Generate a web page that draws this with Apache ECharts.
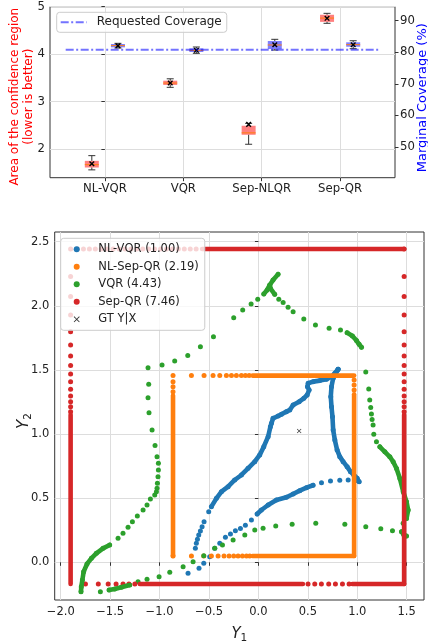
<!DOCTYPE html>
<html><head><meta charset="utf-8">
<script src="https://cdn.jsdelivr.net/npm/echarts@6/dist/echarts.min.js"></script>
<style>html,body{margin:0;padding:0;background:#fff}#c{width:428px;height:642px}</style>
</head><body><div id="c"></div>
<script>
// ---------- top panel data ----------
const methods = ['NL-VQR', 'VQR', 'Sep-NLQR', 'Sep-QR'];
const areaMin  = [1.56, 3.30, 2.10, 4.65];
const areaQ1   = [1.61, 3.35, 2.30, 4.68];
const areaMed  = [1.67, 3.39, 2.34, 4.76];
const areaQ3   = [1.75, 3.44, 2.49, 4.83];
const areaMax  = [1.86, 3.48, 2.54, 4.86];
const areaMean = [1.69, 3.39, 2.52, 4.755];
const covMin  = [81.34, 79.66, 80.70, 81.12];
const covQ1   = [81.56, 80.07, 81.02, 81.75];
const covMed  = [82.10, 80.60, 82.30, 82.40];
const covQ3   = [82.61, 81.24, 83.56, 83.15];
const covMax  = [82.83, 81.66, 84.10, 83.65];
const covMean = [82.07, 80.61, 82.39, 82.39];
const requestedCoverage = 80.8;
const areaTicks = [2, 3, 4, 5];
const covTicks = [40, 50, 60, 70, 80, 90];

// ---------- bottom panel data ----------
const xTicks = [-2.0, -1.5, -1.0, -0.5, 0.0, 0.5, 1.0, 1.5];
const yTicks = [0.0, 0.5, 1.0, 1.5, 2.0, 2.5];
const legendNames = ['NL-VQR (1.00)', 'NL-Sep-QR (2.19)', 'VQR (4.43)', 'Sep-QR (7.46)', 'GT Y|X'];

// NL-VQR contour (blue)
const nlvqrLeft = [[0.806,1.505],[0.773,1.474],[0.739,1.448],[0.688,1.427],[0.621,1.417],[0.553,1.409],[0.503,1.396],[0.496,1.370],[0.513,1.344],[0.493,1.305],[0.459,1.279],[0.412,1.253],[0.351,1.227],[0.317,1.188],[0.283,1.175],[0.233,1.154],[0.199,1.141],[0.148,1.123],[0.132,1.084],[0.121,1.058],[0.098,0.980],[0.054,0.902],[0.013,0.837],[-0.037,0.785],[-0.105,0.733],[-0.172,0.681],[-0.240,0.642],[-0.307,0.590],[-0.374,0.551],[-0.425,0.499],[-0.476,0.434],[-0.503,0.395],[-0.550,0.317],[-0.570,0.278],[-0.587,0.244],[-0.604,0.213],[-0.617,0.179],[-0.628,0.148],[-0.638,0.109],[-0.712,-0.086]];
const nlvqrRight = [[0.806,1.505],[0.756,1.435],[0.739,1.370],[0.732,1.292],[0.739,1.214],[0.749,1.136],[0.756,1.032],[0.773,0.954],[0.796,0.876],[0.823,0.824],[0.857,0.785],[0.897,0.746],[0.931,0.707],[0.965,0.681],[0.999,0.655],[1.019,0.629]];
const nlvqrLower = [[0.992,0.637],[0.908,0.642],[0.823,0.640],[0.729,0.634],[0.638,0.621],[0.553,0.601],[0.486,0.582],[0.418,0.559],[0.351,0.533],[0.283,0.507],[0.182,0.486],[0.098,0.447],[0.030,0.408],[-0.013,0.377],[-0.071,0.330],[-0.132,0.289],[-0.182,0.263],[-0.233,0.247],[-0.283,0.221],[-0.334,0.195],[-0.391,0.148],[-0.442,0.109],[-0.493,0.044],[-0.553,-0.008],[-0.601,-0.047]];
const nlvqrDense = [
  [[0.806,1.505],[0.773,1.474],[0.739,1.448],[0.688,1.427],[0.621,1.417],[0.553,1.409],[0.503,1.396],[0.496,1.370],[0.513,1.344],[0.493,1.305],[0.459,1.279],[0.412,1.253],[0.351,1.227],[0.317,1.188],[0.283,1.175],[0.233,1.154],[0.199,1.141],[0.148,1.123],[0.132,1.084],[0.121,1.058],[0.098,0.980],[0.054,0.902],[0.013,0.837],[-0.037,0.785],[-0.105,0.733],[-0.172,0.681],[-0.240,0.642],[-0.307,0.590],[-0.374,0.551],[-0.425,0.499],[-0.476,0.434]],
  [[0.806,1.505],[0.756,1.435],[0.739,1.370],[0.732,1.292],[0.739,1.214],[0.749,1.136],[0.756,1.032],[0.773,0.954],[0.796,0.876],[0.823,0.824],[0.857,0.785],[0.897,0.746],[0.931,0.707],[0.965,0.681],[0.999,0.655],[1.019,0.629]],
  [[0.553,0.601],[0.486,0.582],[0.418,0.559],[0.351,0.533],[0.283,0.507],[0.182,0.486],[0.098,0.447],[0.030,0.408],[-0.013,0.377]]
];

// NL-Sep-QR box (orange)
const nlsepLeftX = -0.864, nlsepRightX = 0.968, nlsepBottomY = 0.049, nlsepTopY = 1.456;
const nlsepTopDotsX = [-0.864,-0.678,-0.550,-0.459,-0.391,-0.324,-0.273,-0.223,-0.172,-0.132,-0.094];
const nlsepBottomDotsX = [-0.864,-0.678,-0.553,-0.476,-0.408,-0.348,-0.297,-0.250,-0.206,-0.162,-0.121,-0.088];
const nlsepLeftDotsY = [1.409,1.370,1.331];
const nlsepRightDotsY = [1.422,1.383,1.344];
const nlsepDense = [
  [[-0.06,1.456],[0.968,1.456]],
  [[-0.06,0.049],[0.968,0.049]],
  [[-0.864,1.30],[-0.864,0.049]],
  [[0.968,1.31],[0.968,0.049]]
];

// VQR contour (green)
const vqrLeft = [[-1.117,1.518],[-1.110,1.388],[-1.117,1.284],[-1.107,1.167],[-1.076,1.032],[-1.046,0.910],[-1.026,0.824],[-1.012,0.772],[-1.012,0.720],[-1.016,0.668],[-1.022,0.616],[-1.026,0.577],[-1.032,0.551],[-1.049,0.525],[-1.093,0.494],[-1.127,0.447],[-1.167,0.408],[-1.225,0.361],[-1.275,0.317],[-1.319,0.273],[-1.370,0.226],[-1.420,0.187],[-1.505,0.135],[-1.572,0.109],[-1.640,0.070],[-1.690,0.031],[-1.734,-0.013],[-1.768,-0.073],[-1.781,-0.138],[-1.792,-0.190],[-1.795,-0.229]];
const vqrBottom = [[-1.599,-0.229],[-1.511,-0.216],[-1.454,-0.208],[-1.387,-0.195],[-1.302,-0.177],[-1.218,-0.151],[-1.127,-0.133],[-1.005,-0.112],[-0.897,-0.078],[-0.762,-0.034],[-0.661,0.005],[-0.553,0.052],[-0.442,0.109],[-0.364,0.135],[-0.256,0.174],[-0.138,0.213],[-0.037,0.252],[0.047,0.265],[0.175,0.283],[0.341,0.296],[0.580,0.304],[0.874,0.296],[1.086,0.278],[1.238,0.262],[1.356,0.247]];
const vqrUpper = [[-0.975,1.539],[-0.847,1.570],[-0.715,1.612],[-0.587,1.682],[-0.455,1.760],[-0.250,1.908],[-0.159,1.968],[-0.074,2.015],[-0.007,2.051],[0.054,2.093],[0.088,2.124],[0.115,2.163],[0.148,2.202],[0.199,2.247]];
const vqrUpperRight = [[0.121,2.137],[0.165,2.090],[0.206,2.052],[0.250,2.026],[0.300,1.989],[0.351,1.955],[0.459,1.898],[0.577,1.851],[0.715,1.825],[0.830,1.812],[0.897,1.791],[0.951,1.765],[0.992,1.729],[1.019,1.700],[1.043,1.677]];
const vqrRight = [[1.086,1.484],[1.116,1.351],[1.126,1.265],[1.136,1.208],[1.143,1.156],[1.150,1.114],[1.160,1.070],[1.167,0.999],[1.194,0.940],[1.228,0.901],[1.279,0.862],[1.329,0.823],[1.363,0.784],[1.397,0.732],[1.431,0.654],[1.465,0.550],[1.498,0.472],[1.515,0.407],[1.498,0.342],[1.464,0.304],[1.447,0.239],[1.470,0.215],[1.498,0.205]];
const vqrDense = [
  [[0.054,2.093],[0.088,2.124],[0.115,2.163],[0.148,2.202],[0.199,2.247]],
  [[0.115,2.163],[0.121,2.137],[0.165,2.090]],
  [[0.897,1.791],[0.951,1.765],[0.992,1.729],[1.019,1.700],[1.043,1.677]],
  [[1.228,0.901],[1.279,0.862],[1.329,0.823],[1.363,0.784],[1.397,0.732],[1.431,0.654],[1.465,0.550],[1.498,0.472],[1.515,0.407],[1.498,0.342]],
  [[1.447,0.239],[1.470,0.215],[1.498,0.205]],
  [[-1.505,0.135],[-1.572,0.109],[-1.640,0.070],[-1.690,0.031],[-1.734,-0.013],[-1.768,-0.073],[-1.781,-0.138],[-1.792,-0.190],[-1.795,-0.229]],
  [[-1.511,-0.216],[-1.454,-0.208],[-1.387,-0.195],[-1.302,-0.177]]
];

// Sep-QR box (red)
const sepqrLeftX = -1.9, sepqrRightX = 1.474, sepqrBottomY = -0.169, sepqrTopY = 2.444;
const sepqrSideDotsY = [1.175,1.214,1.253,1.297,1.349,1.409,1.469,1.534,1.609,1.695,1.799,1.929,2.072,2.228,2.444];
const sepqrBottomDotsX = [-1.75,-1.62,-1.52,-1.44,-1.37,-1.31,-1.25,0.502,0.570,0.637,0.711,0.779,0.850,0.917];
const sepqrTopDotsX = [-1.83,-1.77,-1.71,-1.65,-1.59,-1.53,-1.47,-1.41,-1.35,-1.29,-1.23,-1.17,-1.11,-1.05,-0.99,-0.93,-0.87,-0.81,-0.75,-0.69,-0.63];
const sepqrDense = [
  [[-1.9,-0.169],[-1.9,1.15]],
  [[1.474,-0.169],[1.474,1.15]],
  [[-1.2,-0.169],[0.45,-0.169]],
  [[0.95,-0.169],[1.474,-0.169]],
  [[-0.57,2.444],[1.474,2.444]]
];

const gtPoint = [[0.412, 1.024]];

// ---------- build ----------
const FONT = 'DejaVu Sans';
const TXT = '#222';
const C = {blue:'#1f77b4', orange:'#ff7f0e', green:'#2ca02c', red:'#d62728'};
const X_PATH = 'path://M0,1L1,0L5,4L9,0L10,1L6,5L10,9L9,10L5,6L1,10L0,9L4,5Z';
const DASHDOT_PATH = 'path://M0,0H8V2H0ZM10.5,0H12.5V2H10.5ZM15,0H23V2H15ZM25.5,0H26V2H25.5Z';

function boxRows(mn, q1, md, q3, mx, mean) {
  return methods.map((m, i) => [i, mn[i], q1[i], md[i], q3[i], mx[i], mean[i]]);
}
const OFF = 1 / 6, BOXW = 14, CAPW = 7;
function boxRender(offset, fill) {
  return function (params, api) {
    const p = api.value(0) + offset;
    const cMin = api.coord([p, api.value(1)]);
    const cQ1 = api.coord([p, api.value(2)]);
    const cMed = api.coord([p, api.value(3)]);
    const cQ3 = api.coord([p, api.value(4)]);
    const cMax = api.coord([p, api.value(5)]);
    const cMean = api.coord([p, api.value(6)]);
    const x = cQ1[0], hw = BOXW / 2, cw = CAPW / 2, m = 2.3;
    const ws = () => ({stroke: '#333', lineWidth: 1});
    return {type: 'group', children: [
      {type: 'rect', shape: {x: x - hw, y: cQ3[1], width: BOXW, height: cQ1[1] - cQ3[1]}, style: {fill: fill}},
      {type: 'line', shape: {x1: x - hw, y1: cMed[1], x2: x + hw, y2: cMed[1]}, style: {stroke: '#ff7f0e', lineWidth: 1}},
      {type: 'line', shape: {x1: x, y1: cQ1[1], x2: x, y2: cMin[1]}, style: ws()},
      {type: 'line', shape: {x1: x, y1: cQ3[1], x2: x, y2: cMax[1]}, style: ws()},
      {type: 'line', shape: {x1: x - cw, y1: cMin[1], x2: x + cw, y2: cMin[1]}, style: ws()},
      {type: 'line', shape: {x1: x - cw, y1: cMax[1], x2: x + cw, y2: cMax[1]}, style: ws()},
      {type: 'line', shape: {x1: cMean[0] - m, y1: cMean[1] - m, x2: cMean[0] + m, y2: cMean[1] + m}, style: {stroke: '#000', lineWidth: 1.4}},
      {type: 'line', shape: {x1: cMean[0] - m, y1: cMean[1] + m, x2: cMean[0] + m, y2: cMean[1] - m}, style: {stroke: '#000', lineWidth: 1.4}}
    ]};
  };
}
const fmt1 = v => (v < 0 ? '\u2212' : '') + Math.abs(v).toFixed(1);

function denseSeries(segs, color) {
  return segs.map(s => ({
    type: 'line', xAxisIndex: 1, yAxisIndex: 2, data: s, symbol: 'none', silent: true,
    lineStyle: {color: color, width: 4.6, cap: 'round', join: 'round'}
  }));
}
function dots(name, data, color, size) {
  return {type: 'scatter', name: name, xAxisIndex: 1, yAxisIndex: 2, data: data, symbolSize: size || 5,
    itemStyle: {color: color, opacity: 1}, silent: true};
}

const nlsepDots = []
  .concat(nlsepTopDotsX.map(x => [x, nlsepTopY]))
  .concat(nlsepBottomDotsX.map(x => [x, nlsepBottomY]))
  .concat(nlsepLeftDotsY.map(y => [nlsepLeftX, y]))
  .concat(nlsepRightDotsY.map(y => [nlsepRightX, y]));
const sepqrDots = []
  .concat(sepqrSideDotsY.map(y => [sepqrLeftX, y]))
  .concat(sepqrSideDotsY.map(y => [sepqrRightX, y]))
  .concat(sepqrBottomDotsX.map(x => [x, sepqrBottomY]))
  .concat(sepqrTopDotsX.map(x => [x, sepqrTopY]));

const tickStyle = {length: 3.5, lineStyle: {color: '#333', width: 1}};
const gridLine = {show: true, lineStyle: {color: '#dddddd', width: 1}};
const lbl = (extra) => Object.assign({color: TXT, fontFamily: FONT, fontSize: 11.7}, extra);

const option = {
  animation: false,
  backgroundColor: '#fff',
  textStyle: {fontFamily: FONT},
  grid: [
    {left: 50, top: 6.7, width: 345, height: 171, show: true, borderColor: '#333', borderWidth: 1, backgroundColor: 'transparent', outerBoundsMode: 'none', containLabel: false},
    {left: 54.7, top: 232, width: 369.3, height: 368, show: true, borderColor: '#333', borderWidth: 1, backgroundColor: 'transparent', outerBoundsMode: 'none', containLabel: false}
  ],
  legend: [
    {
      data: [{name: 'Requested Coverage', icon: DASHDOT_PATH}], left: 56.7, top: 12.3, orient: 'horizontal',
      padding: [4, 5, 4, 4], itemWidth: 26, itemHeight: 14,
      borderColor: '#cccccc', borderWidth: 1, borderRadius: 3, backgroundColor: 'rgba(255,255,255,0.8)',
      textStyle: {fontFamily: FONT, fontSize: 12, color: TXT, padding: [0, 0, 0, 5]}
    },
    {
      data: legendNames.map(n => n === 'GT Y|X' ? {name: n, icon: X_PATH} : {name: n, icon: 'circle'}),
      left: 60.7, top: 238.3, orient: 'vertical', padding: [4, 6, 4, 13],
      itemWidth: 6, itemHeight: 6, itemGap: 3.5,
      borderColor: '#cccccc', borderWidth: 1, borderRadius: 3, backgroundColor: 'rgba(255,255,255,0.8)',
      textStyle: {fontFamily: FONT, fontSize: 11.5, color: TXT, lineHeight: 14, padding: [0, 0, 0, 13.6]}
    }
  ],
  xAxis: [
    {
      gridIndex: 0, type: 'value', min: -0.7, max: 3.7,
      axisLine: {show: false},
      axisTick: Object.assign({customValues: [0, 1, 2, 3]}, tickStyle),
      axisLabel: lbl({customValues: [0, 1, 2, 3], margin: 5, formatter: v => methods[Math.round(v)]}),
      splitLine: gridLine
    },
    {
      gridIndex: 1, type: 'value', min: -2.061, max: 1.675,
      axisLine: {show: false},
      axisTick: Object.assign({customValues: xTicks}, tickStyle),
      axisLabel: lbl({customValues: xTicks, margin: 6, fontSize: 11.5, formatter: fmt1}),
      splitLine: gridLine,
      name: '{i|Y}{s|1}', nameLocation: 'middle', nameGap: 24, nameMoveOverlap: false,
      nameTextStyle: {rich: {
        i: {fontFamily: FONT, fontStyle: 'italic', fontSize: 15, lineHeight: 20, color: TXT},
        s: {fontFamily: FONT, fontSize: 10.5, verticalAlign: 'bottom', color: TXT}
      }}
    }
  ],
  yAxis: [
    {
      gridIndex: 0, type: 'value', min: 1.395, max: 5.0, position: 'left',
      axisLine: {show: false},
      axisTick: Object.assign({customValues: areaTicks}, tickStyle),
      axisLabel: lbl({customValues: areaTicks, margin: 5}),
      splitLine: gridLine,
      name: 'Area of the confidence region\n(lower is better)', nameLocation: 'middle', nameGap: 14, nameMoveOverlap: false,
      nameTextStyle: {color: '#ff0000', fontFamily: FONT, fontSize: 12, lineHeight: 14, align: 'center', padding: [0, 9, 0, 0]}
    },
    {
      gridIndex: 0, type: 'value', min: 40.2, max: 94.45, position: 'right',
      axisLine: {show: false},
      axisTick: Object.assign({customValues: covTicks}, tickStyle),
      axisLabel: lbl({customValues: covTicks, margin: 5}),
      splitLine: {show: false},
      name: 'Marginal Coverage (%)', nameLocation: 'middle', nameGap: 20, nameMoveOverlap: false,
      nameTextStyle: {color: '#0000ff', fontFamily: FONT, fontSize: 13, lineHeight: 15, padding: [0, 11, 0, 0]}
    },
    {
      gridIndex: 1, type: 'value', min: -0.294, max: 2.576,
      axisLine: {show: false},
      axisTick: Object.assign({customValues: yTicks}, tickStyle),
      axisLabel: lbl({customValues: yTicks, margin: 5.5, fontSize: 11.5, formatter: fmt1}),
      splitLine: gridLine,
      name: '{i|Y}{s|2}', nameLocation: 'middle', nameGap: 21, nameMoveOverlap: false,
      nameTextStyle: {padding: [0, 10, 0, 0], rich: {
        i: {fontFamily: FONT, fontStyle: 'italic', fontSize: 15, lineHeight: 20, color: TXT},
        s: {fontFamily: FONT, fontSize: 10.5, verticalAlign: 'bottom', color: TXT}
      }}
    }
  ],
  series: [
    {type: 'custom', xAxisIndex: 0, yAxisIndex: 0, renderItem: boxRender(-OFF, 'rgba(255,0,0,0.5)'),
      data: boxRows(areaMin, areaQ1, areaMed, areaQ3, areaMax, areaMean), encode: {x: 0, y: [1, 2, 3, 4, 5, 6]}, silent: true, z: 3},
    {type: 'custom', xAxisIndex: 0, yAxisIndex: 1, renderItem: boxRender(OFF, 'rgba(0,0,255,0.5)'),
      data: boxRows(covMin, covQ1, covMed, covQ3, covMax, covMean), encode: {x: 0, y: [1, 2, 3, 4, 5, 6]}, silent: true, z: 3},
    {type: 'line', name: 'Requested Coverage', xAxisIndex: 0, yAxisIndex: 1, symbol: 'none', silent: true, z: 4,
      data: [[-0.5, requestedCoverage], [3.5, requestedCoverage]],
      itemStyle: {color: 'rgba(0,0,255,0.55)'},
      lineStyle: {color: 'rgba(0,0,255,0.55)', width: 2, type: [8, 2.5, 2, 2.5]}},

    dots(legendNames[0], nlvqrLeft.concat(nlvqrRight, nlvqrLower), C.blue),
    ...denseSeries(nlvqrDense, C.blue),
    dots(legendNames[1], nlsepDots, C.orange),
    ...denseSeries(nlsepDense, C.orange),
    dots(legendNames[2], vqrLeft.concat(vqrBottom, vqrUpper, vqrUpperRight, vqrRight), C.green),
    ...denseSeries(vqrDense, C.green),
    dots(legendNames[3], sepqrDots, C.red),
    ...denseSeries(sepqrDense, C.red),
    {type: 'scatter', name: legendNames[4], xAxisIndex: 1, yAxisIndex: 2, data: gtPoint, symbol: X_PATH, symbolSize: 4.5,
      itemStyle: {color: '#000'}, silent: true}
  ]
};
const chart = echarts.init(document.getElementById('c'), null, {renderer: 'canvas'});
chart.setOption(option);
</script>
</body></html>
